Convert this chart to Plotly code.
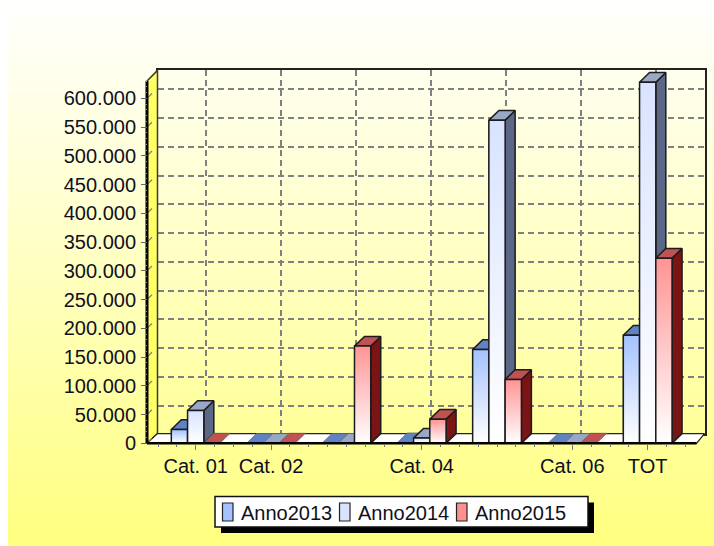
import base64
import plotly.graph_objects as go

categories = ["Cat. 01", "Cat. 02", "", "Cat. 04", "", "Cat. 06", "TOT"]
anno2013 = [24000, 0, 0, 1000, 163000, 0, 188000]
anno2014 = [57000, 0, 0, 9000, 562000, 0, 628000]
anno2015 = [500, 500, 169000, 42000, 111000, 500, 322000]
series_names = ["Anno2013", "Anno2014", "Anno2015"]
y_ticks = list(range(0, 600001, 50000))
y_minor = list(range(0, 630001, 10000))

W, H = 714, 546
FONT = "Liberation Sans"
FRONT_C = ["#a4c2ff", "#d9e3ff", "#ff9494"]
TOP_C = ["#5f83c4", "#99a8c6", "#c05252"]
SIDE_C = ["#44659f", "#5a6786", "#7b1414"]
SWATCH_C = ["#a4c2ff", "#d9e3ff", "#ff9090"]

# front plane scale: one category = 75.33 px, 50.000 = 28.75 px
PX_CAT, PX_VAL = 75.33, 28.75 / 50000
X0_PX, Y0_PX = 195.7, 443.3     # pixel of category 0 and of value 0
L, R, T, B = 140, 712, 64, 451  # pixel extent of the front axes
XR = [(L - X0_PX) / PX_CAT, (R - X0_PX) / PX_CAT]
YR = [(Y0_PX - B) / PX_VAL, (Y0_PX - T) / PX_VAL]
X_MIN, X_MAX = (147 - X0_PX) / PX_CAT, (696.5 - X0_PX) / PX_CAT
Y_MAX = 630000
DX = 10 / PX_CAT        # depth of the 3D effect
DY = 9.7 * 1 / PX_VAL
BAR_W = 16.25 / PX_CAT
n = len(categories)


def px_x(p):
    return p / W


def px_y(p):
    return 1 - p / H


fig = go.Figure()
AX = dict(xaxis="x2", yaxis="y2", hoverinfo="skip", showlegend=False, mode="lines")

# the back wall subplot carries only gridlines; this keeps its axes alive
fig.add_trace(go.Scatter(x=[0], y=[0], xaxis="x", yaxis="y", mode="lines", hoverinfo="skip", showlegend=False))

# left wall and floor of the 3D box
fig.add_trace(go.Scatter(
    x=[X_MIN, X_MIN + DX * 1.05, X_MIN + DX * 1.05, X_MIN, X_MIN],
    y=[0, DY, Y_MAX + DY * 1.1, Y_MAX, 0],
    fill="toself", fillcolor="#ffff66", line=dict(color="#3c3c28", width=1.5), **AX))
fig.add_trace(go.Scatter(
    x=[X_MIN, X_MAX, X_MAX + DX * 0.8, X_MIN + DX * 1.05, X_MIN],
    y=[0, 0, DY, DY, 0],
    fill="toself", fillcolor="#ffffff", line=dict(color="#222222", width=1.2), **AX))
# slanted tick marks on the left wall
wall_x, wall_y = [], []
for v in y_ticks:
    wall_x += [X_MIN, X_MIN + DX * 0.5, None]
    wall_y += [v, v + DY * 0.5, None]
fig.add_trace(go.Scatter(x=wall_x, y=wall_y, line=dict(color="#808080", width=1.2), **AX))

# plain bars carrying the values
for s, vals in enumerate([anno2013, anno2014, anno2015]):
    fig.add_trace(go.Bar(
        x=list(range(n)), y=vals, name=series_names[s], xaxis="x2", yaxis="y2",
        marker=dict(color=FRONT_C[s], line=dict(color="#222222", width=1)),
        hoverinfo="skip", showlegend=False))

# 3D faces, drawn left to right so nearer bars cover the previous side face
line = dict(color="#1c1c1c", width=1.5)
for i in range(n):
    for s, vals in enumerate([anno2013, anno2014, anno2015]):
        v = vals[i]
        x0 = i + (s - 1.5) * BAR_W
        x1 = x0 + BAR_W
        if v > 1000:
            fig.add_trace(go.Scatter(
                x=[x1, x1 + DX, x1 + DX, x1, x1], y=[0, DY, v + DY, v, 0],
                fill="toself", fillcolor=SIDE_C[s], line=line, **AX))
        fig.add_trace(go.Scatter(
            x=[x0, x1, x1 + DX, x0 + DX, x0], y=[v, v, v + DY, v + DY, v],
            fill="toself", fillcolor=TOP_C[s],
            line=line if v > 1000 else dict(color="#666666", width=0.8), **AX))
        if v > 1000:
            fig.add_trace(go.Scatter(
                x=[x0, x1, x1, x0, x0], y=[0, 0, v, v, 0],
                fill="toself",
                fillgradient=dict(type="vertical", colorscale=[[0, "#ffffff"], [1, FRONT_C[s]]]),
                line=line, **AX))

# heavy front edges
fig.add_trace(go.Scatter(x=[X_MIN, X_MIN], y=[0, Y_MAX], line=dict(color="#000000", width=3), **AX))
fig.add_trace(go.Scatter(x=[X_MIN, X_MAX], y=[0, 0], line=dict(color="#000000", width=2.5), **AX))

svg = ('<svg xmlns="http://www.w3.org/2000/svg" width="10" height="100" preserveAspectRatio="none">'
       '<defs><linearGradient id="g" x1="0" y1="0" x2="0" y2="1">'
       '<stop offset="0" stop-color="#ffffff"/><stop offset="1" stop-color="#ffff80"/>'
       '</linearGradient></defs><rect width="10" height="100" fill="url(#g)"/></svg>')
bg_src = "data:image/svg+xml;base64," + base64.b64encode(svg.encode()).decode()

# legend box
LEG_L, LEG_T, LEG_R, LEG_B = 215, 496.5, 588, 527
shapes = [
    dict(type="rect", xref="paper", yref="paper", x0=px_x(LEG_L + 6), x1=px_x(LEG_R + 6),
         y0=px_y(LEG_T + 6), y1=px_y(LEG_B + 6), fillcolor="#000000", line=dict(width=0)),
    dict(type="rect", xref="paper", yref="paper", x0=px_x(LEG_L), x1=px_x(LEG_R),
         y0=px_y(LEG_T), y1=px_y(LEG_B), fillcolor="#ffffff", line=dict(color="#111111", width=1.5)),
]
annotations = []
for s, name in enumerate(series_names):
    left = 222.5 + s * 117
    shapes.append(dict(type="rect", xref="paper", yref="paper", x0=px_x(left), x1=px_x(left + 10.5),
                       y0=px_y(503), y1=px_y(521), fillcolor=SWATCH_C[s],
                       line=dict(color="#222222", width=1.2)))
    annotations.append(dict(text=name, xref="paper", yref="paper", x=px_x(left + 17), y=px_y(512.5),
                            xanchor="left", yanchor="middle", showarrow=False,
                            borderpad=0, font=dict(family=FONT, size=20, color="#101020")))

fig.update_layout(
    width=W, height=H, autosize=False, margin=dict(l=0, r=0, t=0, b=0, pad=0),
    paper_bgcolor="#ffffff", plot_bgcolor="rgba(0,0,0,0)",
    separators=",.", showlegend=False, barmode="group", bargap=1 - 3 * BAR_W, bargroupgap=0,
    font=dict(family=FONT, size=20, color="#101020"),
    images=[dict(source=bg_src, xref="paper", yref="paper", x=px_x(8), y=1, sizex=1 - px_x(8), sizey=1,
                 xanchor="left", yanchor="top", sizing="stretch", layer="below")],
    shapes=shapes, annotations=annotations,
    # back wall: carries the gridlines
    xaxis=dict(domain=[px_x(158), px_x(705)], range=[-0.637, 6.65], tickmode="array",
               tickvals=list(range(n)), showticklabels=False, ticks="", automargin=False,
               showgrid=True, gridcolor="#808080", gridwidth=1.5, griddash="6px,4px", zeroline=False,
               showline=True, mirror=True, linecolor="#222222", linewidth=1.5, anchor="y"),
    yaxis=dict(domain=[px_y(434.3), px_y(70)], range=[0, 633500], tickmode="array",
               tickvals=y_ticks, showticklabels=False, ticks="", automargin=False,
               showgrid=True, gridcolor="#808080", gridwidth=1.5, griddash="6px,4px", zeroline=False,
               showline=True, mirror=True, linecolor="#222222", linewidth=1.5, anchor="x"),
    # front plane: carries the bars, ticks and labels
    xaxis2=dict(domain=[px_x(L), px_x(R)], range=XR, tickmode="array", automargin=False,
                tickvals=list(range(n)), ticktext=categories, tickangle=0,
                ticks="outside", ticklen=6, tickwidth=1.2, tickcolor="#777777",
                minor=dict(tickmode="array", tickvals=[-0.5 + 0.25 * k for k in range(29)],
                           ticks="outside", ticklen=3, tickwidth=1.2, tickcolor="#777777"),
                showgrid=False, zeroline=False, showline=False,
                anchor="free", position=px_y(Y0_PX), ticklabelstandoff=-1),
    yaxis2=dict(domain=[px_y(B), px_y(T)], range=YR, tickmode="array", automargin=False,
                tickvals=y_ticks, tickformat=",d",
                ticks="outside", ticklen=6, tickwidth=1.2, tickcolor="#666666",
                minor=dict(tickmode="array", tickvals=y_minor, ticks="outside", ticklen=2,
                           tickwidth=1, tickcolor="#888888"),
                showgrid=False, zeroline=False, showline=False,
                anchor="free", position=px_x(147), ticklabelstandoff=1),
)

post = """
var g = document.querySelector('.plotly-graph-div');
g.style.position = 'fixed'; g.style.left = '0'; g.style.top = '0';
var s = document.createElement('style');
s.textContent = 'html,body{margin:0;padding:0;width:714px;height:546px;overflow:hidden}';
document.head.appendChild(s);
"""
fig.write_html("out.html", config={"displayModeBar": False, "responsive": False},
               default_width="714px", default_height="546px", post_script=post)
